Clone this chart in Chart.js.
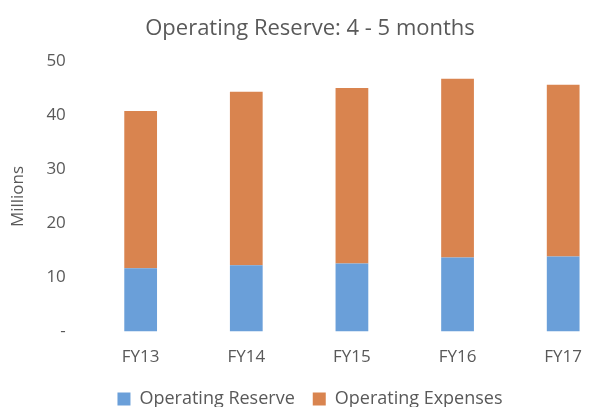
<!DOCTYPE html>
<html>
<head>
<meta charset="utf-8">
<script src="https://cdn.jsdelivr.net/npm/chart.js@4"></script>
<style>
  html, body { margin: 0; padding: 0; background: #fff; overflow: hidden; }
  #wrap { width: 626px; height: 407px; }
</style>
</head>
<body>
<div id="wrap"><canvas id="chart" width="626" height="407"></canvas></div>
<script>
const years = ["FY13", "FY14", "FY15", "FY16", "FY17"];
const reserve = [11.7, 12.3, 12.6, 13.7, 13.9];
const expenses = [29.1, 32.1, 32.5, 33.1, 31.8];
const yTicks = [0, 10, 20, 30, 40, 50];

const grey = "#595959";
const font = "'Open Sans', sans-serif";

const ctx = document.getElementById("chart").getContext("2d");
new Chart(ctx, {
    type: "bar",
    data: {
        labels: years,
        datasets: [
            { label: "Operating Reserve", data: reserve, backgroundColor: "#6a9fd9" },
            { label: "Operating Expenses", data: expenses, backgroundColor: "#d9844f" }
        ]
    },
    options: {
        responsive: false,
        animation: false,
        // legend sits a bit lower than chart.js puts it, hence the negative bottom
        layout: { padding: { top: 12, right: 10, left: 4, bottom: -11 } },
        datasets: { bar: { barPercentage: 0.62, categoryPercentage: 0.5 } },
        plugins: {
            title: {
                display: true,
                text: "Operating Reserve: 4 - 5 months",
                color: grey,
                font: { family: font, size: 22, weight: "normal" },
                padding: { top: 4, bottom: 19 }
            },
            legend: {
                position: "bottom",
                labels: {
                    color: grey,
                    font: { family: font, size: 18 },
                    boxWidth: 13,
                    boxHeight: 13,
                    padding: 18
                }
            },
            tooltip: { enabled: false }
        },
        scales: {
            x: {
                stacked: true,
                grid: { display: false },
                border: { display: false },
                ticks: { color: grey, font: { family: font, size: 17 }, padding: 7 },
                afterFit: s => { s.height -= 2; }
            },
            y: {
                stacked: true,
                min: yTicks[0],
                max: yTicks[yTicks.length - 1],
                grid: { display: false },
                border: { display: false },
                afterBuildTicks: axis => { axis.ticks = yTicks.map(v => ({ value: v })); },
                ticks: {
                    color: grey,
                    font: { family: font, size: 17 },
                    padding: 14,
                    callback: v => v === 0 ? "-" : v
                },
                title: {
                    display: true,
                    text: "Millions",
                    color: grey,
                    font: { family: font, size: 17 },
                    padding: { bottom: 4 }
                }
            }
        }
    }
});
</script>
</body>
</html>
